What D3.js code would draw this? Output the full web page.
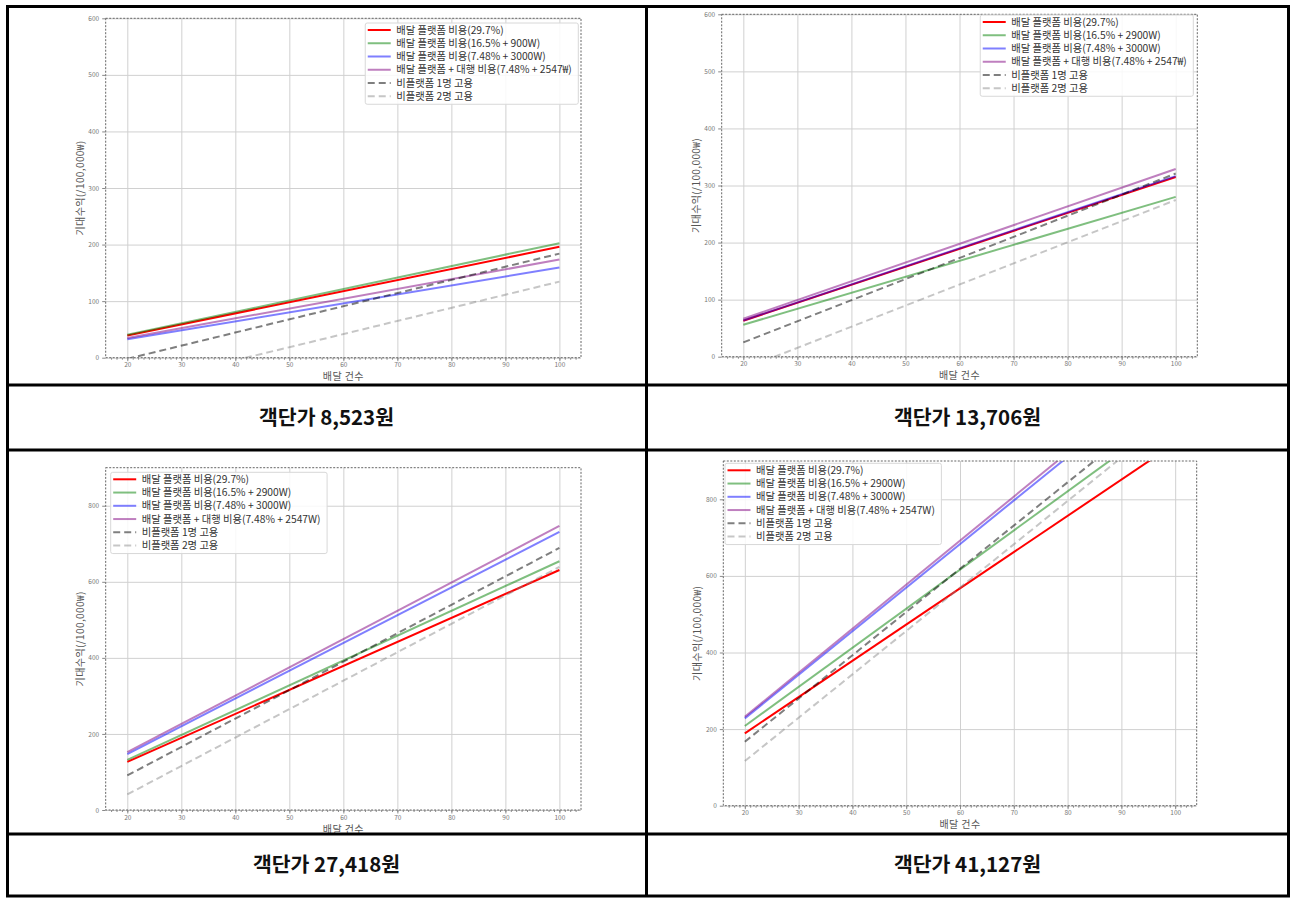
<html>
<head>
<meta charset="utf-8">
<style>
  body { margin: 0; background: #fff; }
  svg text { font-family: "Noto Sans CJK KR", "Noto Sans", sans-serif; }
  .grid line { stroke: #d0d0d0; stroke-width: 1; }
  .grid path { display: none; }
  .axis path { display: none; }
  .axis line { stroke: #888; }
  .axis text { fill: #777; font-size: 6.5px; font-family: "Noto Sans CJK KR", sans-serif; }
  .axis-label { fill: #555; font-size: 10px; letter-spacing: 0.4px; text-anchor: middle; }
  .legend text { fill: #333; font-size: 10.3px; }
  .caption { font-size: 20.5px; font-weight: bold; fill: #111; text-anchor: middle; }
</style>
</head>
<body>
<script src="https://cdn.jsdelivr.net/npm/d3@7/dist/d3.min.js"></script>
<script>

// delivery counts where each line starts / ends
var counts = [20, 100];
var xTicks = [20, 30, 40, 50, 60, 70, 80, 90, 100];
var yTicksLow = [0, 100, 200, 300, 400, 500, 600];
var yTicksHigh = [0, 200, 400, 600, 800];

var captions = ["객단가 8,523원", "객단가 13,706원", "객단가 27,418원", "객단가 41,127원"];

// legend labels
var labels8523 = ["배달 플랫폼 비용(29.7%)", "배달 플랫폼 비용(16.5% + 900W)", "배달 플랫폼 비용(7.48% + 3000W)",
  "배달 플랫폼 + 대행 비용(7.48% + 2547₩)", "비플랫폼 1명 고용", "비플랫폼 2명 고용"];
var labels13706 = ["배달 플랫폼 비용(29.7%)", "배달 플랫폼 비용(16.5% + 2900W)", "배달 플랫폼 비용(7.48% + 3000W)",
  "배달 플랫폼 + 대행 비용(7.48% + 2547₩)", "비플랫폼 1명 고용", "비플랫폼 2명 고용"];
var labelsHigh = ["배달 플랫폼 비용(29.7%)", "배달 플랫폼 비용(16.5% + 2900W)", "배달 플랫폼 비용(7.48% + 3000W)",
  "배달 플랫폼 + 대행 비용(7.48% + 2547W)", "비플랫폼 1명 고용", "비플랫폼 2명 고용"];

// expected profit (/100,000) at 20 and 100 deliveries, one row per series
var values8523 = [[39.2, 196], [40.5, 202.5], [32.5, 159.5], [35, 173.5], [-2, 184], [-51, 134.5]];
var values13706 = [[63, 315], [56, 280], [63.5, 316.5], [66.5, 329], [25, 321], [-21.5, 274.5]];
var values27418 = [[126.5, 631], [132, 654], [147, 731], [152, 747], [91, 689], [41, 639]];
var values41127 = [[189, 946], [208, 1025], [228, 1138], [232, 1152], [167, 1070], [116.5, 1022]];

// series styles
var seriesColors = ["red", "green", "blue", "purple", "black", "gray"];
var seriesOpacity = [1, 0.5, 0.5, 0.5, 0.5, 0.45];
var seriesDash = [null, null, null, null, "7,4", "7,4"];

// panel layout
var panels = [
  {values: values8523, labels: labels8523, yMax: 600, yTicks: yTicksLow,
   left: 105.7, right: 581, top: 18.3, bottom: 357.7, legendRight: 578.3, legendTop: 23},
  {values: values13706, labels: labels13706, yMax: 600, yTicks: yTicksLow,
   left: 721.7, right: 1197.3, top: 14.3, bottom: 356.7, legendRight: 1193.3, legendTop: 15},
  {values: values27418, labels: labelsHigh, yMax: 900, yTicks: yTicksHigh,
   left: 105.7, right: 581, top: 467.7, bottom: 810, legendLeft: 110.7, legendTop: 472.3},
  {values: values41127, labels: labelsHigh, yMax: 900, yTicks: yTicksHigh,
   left: 723.3, right: 1196.7, top: 461, bottom: 805.7, legendLeft: 725, legendTop: 463.3}
];

var svg = d3.select("body")
  .append("svg")
    .attr("width", 1291)
    .attr("height", 898);

panels.forEach(function(p, i) {
  var x = d3.scaleLinear().domain([16, 104]).range([p.left, p.right]);
  var y = d3.scaleLinear().domain([0, p.yMax]).range([p.bottom, p.top]);
  var w = p.right - p.left, h = p.bottom - p.top;
  var g = svg.append("g");

  // grid
  g.append("g")
    .attr("class", "grid")
    .attr("transform", "translate(0," + p.bottom + ")")
    .call(d3.axisBottom(x).tickValues(xTicks).tickSize(-h).tickFormat(""));
  g.append("g")
    .attr("class", "grid")
    .attr("transform", "translate(" + p.left + ",0)")
    .call(d3.axisLeft(y).tickValues(p.yTicks).tickSize(-w).tickFormat(""));

  // lines, clipped to the axes
  var clipId = "clip" + i;
  g.append("clipPath").attr("id", clipId)
    .append("rect")
      .attr("x", p.left).attr("y", p.top)
      .attr("width", w).attr("height", h);

  var line = d3.line()
    .x(function(d, k) { return x(counts[k]); })
    .y(function(d) { return y(d); });

  g.append("g")
    .attr("clip-path", "url(#" + clipId + ")")
    .selectAll("path")
    .data(p.values)
    .enter().append("path")
      .attr("d", line)
      .attr("fill", "none")
      .attr("stroke", function(d, k) { return seriesColors[k]; })
      .attr("stroke-opacity", function(d, k) { return seriesOpacity[k]; })
      .attr("stroke-dasharray", function(d, k) { return seriesDash[k]; })
      .attr("stroke-width", 2);

  // frame
  g.append("rect")
    .attr("x", p.left).attr("y", p.top)
    .attr("width", w).attr("height", h)
    .attr("fill", "none")
    .attr("stroke", "#666")
    .attr("stroke-width", 1)
    .attr("stroke-dasharray", "2,1.5");

  // axes
  g.append("g")
    .attr("class", "axis")
    .attr("transform", "translate(0," + p.bottom + ")")
    .call(d3.axisBottom(x).tickValues(d3.range(17, 104)).tickSize(2).tickFormat(""));
  g.append("g")
    .attr("class", "axis")
    .attr("transform", "translate(0," + p.bottom + ")")
    .call(d3.axisBottom(x).tickValues(xTicks).tickSize(3.5).tickPadding(1.5));
  g.append("g")
    .attr("class", "axis")
    .attr("transform", "translate(" + p.left + ",0)")
    .call(d3.axisLeft(y).tickValues(p.yTicks).tickSize(3.5).tickPadding(3));
  g.selectAll(".axis").attr("font-size", null).attr("font-family", null);

  g.append("text")
    .attr("class", "axis-label")
    .attr("x", (p.left + p.right) / 2)
    .attr("y", p.bottom + 22.5)
    .text("배달 건수");
  g.append("text")
    .attr("class", "axis-label")
    .attr("transform", "translate(" + (p.left - 22) + "," + ((p.top + p.bottom) / 2) + ") rotate(-90)")
    .text("기대수익(/100,000₩)");

  // legend
  var lg = g.append("g").attr("class", "legend");
  var box = lg.append("rect")
    .attr("fill", "#fff")
    .attr("fill-opacity", 0.85)
    .attr("stroke", "#d8d8d8")
    .attr("rx", 2);
  var items = lg.selectAll("g.item")
    .data(p.labels)
    .enter().append("g")
      .attr("class", "item")
      .attr("transform", function(d, k) { return "translate(0," + (7 + k * 13.25) + ")"; });
  items.append("line")
    .attr("x1", 2.5).attr("x2", 25.5)
    .attr("stroke", function(d, k) { return seriesColors[k]; })
    .attr("stroke-opacity", function(d, k) { return seriesOpacity[k]; })
    .attr("stroke-dasharray", function(d, k) { return seriesDash[k]; })
    .attr("stroke-width", 2);
  items.append("text")
    .attr("x", 31)
    .attr("dy", "0.35em")
    .text(function(d) { return d; });
  var maxLen = d3.max(items.selectAll("text").nodes(), function(n) { return n.getComputedTextLength(); });
  var bw = 31 + maxLen + 6.5, bh = 7 + 5 * 13.25 + 8;
  box.attr("width", bw).attr("height", bh);
  var lx = p.legendLeft != null ? p.legendLeft : p.legendRight - bw;
  lg.attr("transform", "translate(" + lx + "," + p.legendTop + ")");
});

// captions
var captionPos = [[326.5, 417.5], [967.5, 417.5], [326.5, 865], [967.5, 865]];
svg.selectAll("text.caption")
  .data(captions)
  .enter().append("text")
    .attr("class", "caption")
    .attr("x", function(d, i) { return captionPos[i][0]; })
    .attr("y", function(d, i) { return captionPos[i][1]; })
    .attr("dy", "0.35em")
    .text(function(d) { return d; });

// table borders
var rules = svg.append("g").attr("stroke", "#000").attr("stroke-width", 3);
rules.append("rect")
  .attr("x", 7.5).attr("y", 6.5)
  .attr("width", 1281).attr("height", 889.5)
  .attr("fill", "none");
[385, 450, 834].forEach(function(yy) {
  rules.append("line").attr("x1", 7.5).attr("x2", 1288.5).attr("y1", yy).attr("y2", yy);
});
rules.append("line").attr("x1", 646.5).attr("x2", 646.5).attr("y1", 6.5).attr("y2", 896);

</script>
</body>
</html>
